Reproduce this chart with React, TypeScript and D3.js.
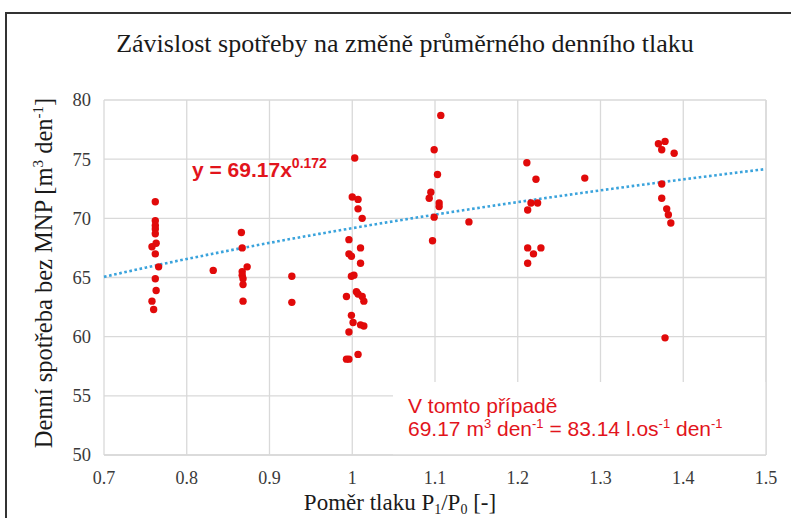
import React from 'react'
import * as d3 from 'd3'

// pressure ratio P1/P0 and daily consumption without MNP [m3/day]
const ratio = [
  0.762, 0.762, 0.762, 0.762, 0.762, 0.763, 0.758, 0.762, 0.766, 0.762, 0.763, 0.758, 0.760,
  0.832,
  0.866, 0.867, 0.873, 0.867, 0.867, 0.868, 0.868, 0.868,
  0.927, 0.927,
  1.003, 1.000, 1.007, 1.007, 1.012, 0.996, 0.996, 0.999, 1.010, 1.010, 0.999, 1.002, 0.993,
  1.005, 1.007, 1.012, 1.014, 0.999, 1.001, 1.010, 1.014, 0.996, 0.993, 0.996, 1.007,
  1.107, 1.099, 1.103, 1.095, 1.093, 1.105, 1.105, 1.099, 1.141, 1.097,
  1.211, 1.222, 1.216, 1.224, 1.212, 1.212, 1.228, 1.219, 1.212,
  1.281,
  1.370, 1.378, 1.374, 1.389, 1.374, 1.374, 1.380, 1.382, 1.385, 1.378,
]
const consumption = [
  71.4, 69.8, 69.4, 69.1, 68.7, 67.9, 67.6, 67.0, 65.9, 64.9, 63.9, 63.0, 62.3,
  65.6,
  68.8, 67.5, 65.9, 65.5, 65.2, 64.9, 64.4, 63.0,
  65.1, 62.9,
  75.1, 71.8, 71.6, 70.8, 70.0, 68.2, 67.0, 66.8, 67.5, 66.2, 65.1, 65.2, 63.4,
  63.8, 63.6, 63.4, 63.0, 61.8, 61.2, 61.0, 60.9, 60.4, 58.1, 58.1, 58.5,
  78.7, 75.8, 73.7, 72.2, 71.7, 71.3, 71.0, 70.1, 69.7, 68.1,
  74.7, 73.3, 71.3, 71.3, 70.7, 67.5, 67.5, 67.0, 66.2,
  73.4,
  76.3, 76.5, 75.8, 75.5, 72.9, 71.7, 70.8, 70.3, 69.6, 59.9,
]

const xTicks = [0.7, 0.8, 0.9, 1.0, 1.1, 1.2, 1.3, 1.4, 1.5]
const yTicks = [50, 55, 60, 65, 70, 75, 80]

// power trendline y = a * x^b
const trendA = 69.17
const trendB = 0.172

const red = '#e2141c'
const dotRed = '#e10a0a'

const App = () => {
  const width = 791
  const height = 518
  const plot = { left: 104, right: 766, top: 100, bottom: 455 }

  const x = d3.scaleLinear().domain([0.7, 1.5]).range([plot.left, plot.right])
  const y = d3.scaleLinear().domain([50, 80]).range([plot.bottom, plot.top])

  const trendX = d3.range(0.7, 1.5001, 0.01)
  const trendLine = d3.line<number>()
    .x(d => x(d))
    .y(d => y(trendA * Math.pow(d, trendB)))

  const serif = '"Liberation Serif", "Times New Roman", serif'
  const sans = '"Liberation Sans", Arial, sans-serif'

  return (
    <svg width={width} height={height} style={{ position: 'absolute', left: 0, top: 0, background: '#fff' }}>
      <rect x={6} y={13} width={900} height={600} fill="#fff" stroke="#333" strokeWidth={2} />

      <text x={405} y={52} textAnchor="middle" fontFamily={serif} fontSize={26} fill="#1a1a1a">
        Závislost spotřeby na změně průměrného denního tlaku
      </text>

      {yTicks.map(t => (
        <line key={'gy' + t} x1={plot.left} x2={plot.right} y1={y(t)} y2={y(t)} stroke="#d9d9d9" strokeWidth={1.3} />
      ))}
      {xTicks.map(t => (
        <line key={'gx' + t} x1={x(t)} x2={x(t)} y1={plot.top} y2={plot.bottom} stroke="#d9d9d9" strokeWidth={1.3} />
      ))}

      {yTicks.map(t => (
        <text key={'ty' + t} x={91} y={y(t)} dy="0.35em" textAnchor="end" fontFamily={serif} fontSize={18.5} fill="#3a3a3a">
          {t}
        </text>
      ))}
      {xTicks.map(t => (
        <text key={'tx' + t} x={x(t)} y={484} textAnchor="middle" fontFamily={serif} fontSize={18} fill="#3a3a3a">
          {d3.format('')(t)}
        </text>
      ))}

      <path d={trendLine(trendX) || ''} fill="none" stroke="#3aa3dc" strokeWidth={2.6} strokeDasharray="2.6 2.6" />

      {ratio.map((r, i) => (
        <circle key={i} cx={x(r)} cy={y(consumption[i])} r={3.7} fill={dotRed} />
      ))}

      <text x={192} y={177} fontFamily={sans} fontSize={21} fontWeight="bold" fill={red}>
        y = 69.17x<tspan dy={-9} fontSize={14}>0.172</tspan>
      </text>

      <rect x={393} y={382} width={plot.right - 393} height={plot.bottom - 382} fill="#fff" />
      <line x1={plot.left} x2={plot.right} y1={plot.bottom} y2={plot.bottom} stroke="#d9d9d9" strokeWidth={1.3} />
      <line x1={plot.right} x2={plot.right} y1={plot.top} y2={plot.bottom} stroke="#d9d9d9" strokeWidth={1.3} />

      <text x={408} y={413} fontFamily={sans} fontSize={21} fill={red}>V tomto případě</text>
      <text x={408} y={436} fontFamily={sans} fontSize={21} fill={red}>
        69.17 m<tspan dy={-8} fontSize={13}>3</tspan>
        <tspan dy={8}> den</tspan><tspan dy={-8} fontSize={13}>-1</tspan>
        <tspan dy={8}> = 83.14 l.os</tspan><tspan dy={-8} fontSize={13}>-1</tspan>
        <tspan dy={8}> den</tspan><tspan dy={-8} fontSize={13}>-1</tspan>
      </text>

      <text transform="translate(52,273) rotate(-90)" textAnchor="middle" fontFamily={serif} fontSize={24.5} fill="#1a1a1a">
        Denní spotřeba bez MNP [m<tspan dy={-9} fontSize={15}>3</tspan>
        <tspan dy={9}> den</tspan><tspan dy={-9} fontSize={15}>-1</tspan><tspan dy={9}>]</tspan>
      </text>

      <text x={400} y={510} textAnchor="middle" fontFamily={serif} fontSize={23} fill="#1a1a1a">
        Poměr tlaku P<tspan dy={4} fontSize={14}>1</tspan><tspan dy={-4}>/P</tspan>
        <tspan dy={4} fontSize={14}>0</tspan><tspan dy={-4}> [-]</tspan>
      </text>
    </svg>
  )
}

export default App
